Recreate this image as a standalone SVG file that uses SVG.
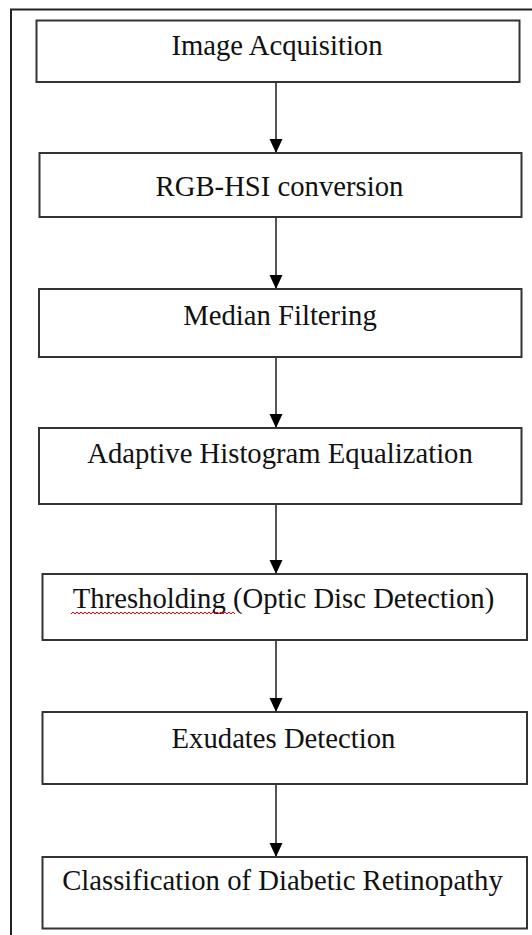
<svg xmlns="http://www.w3.org/2000/svg" width="532" height="935" viewBox="0 0 532 935">
<style>
.box{fill:#fff;stroke:#333;stroke-width:2}
.lbl{font-family:"Liberation Serif","Times New Roman",serif;font-size:28.7px;fill:#111;text-anchor:middle}
.edge{stroke:#555;stroke-width:2;fill:none;marker-end:url(#ah)}
</style>
<defs>
<marker id="ah" markerUnits="userSpaceOnUse" markerWidth="14" markerHeight="14" viewBox="0 0 14 14" refX="14" refY="7" orient="auto">
<path d="M0,0.5 L14,7 L0,13.5 Z" fill="#000"/>
</marker>
</defs>
<rect width="532" height="935" fill="#fff"/>
<path d="M11,935 V9.5 H532" fill="none" stroke="#222" stroke-width="2"/>
<g id="connectors">
<line class="edge" x1="276" y1="82" x2="276" y2="153"/>
<line class="edge" x1="276" y1="217" x2="276" y2="289"/>
<line class="edge" x1="276" y1="357" x2="276" y2="428"/>
<line class="edge" x1="276" y1="504" x2="276" y2="574"/>
<line class="edge" x1="276" y1="640" x2="276" y2="712"/>
<line class="edge" x1="276" y1="784" x2="276" y2="857"/>
</g>
<g id="n1"><rect class="box" x="36.5" y="20.5" width="483" height="61.5"/><text class="lbl" x="277" y="55">Image Acquisition</text></g>
<g id="n2"><rect class="box" x="39.5" y="153" width="482" height="64"/><text class="lbl" x="279.5" y="196">RGB-HSI conversion</text></g>
<g id="n3"><rect class="box" x="39" y="289" width="482.5" height="68"/><text class="lbl" x="280" y="325">Median Filtering</text></g>
<g id="n4"><rect class="box" x="39" y="428" width="482.5" height="76"/><text class="lbl" x="280" y="463">Adaptive Histogram Equalization</text></g>
<g id="n5"><rect class="box" x="42.5" y="574" width="484.5" height="66"/><text class="lbl" x="283.5" y="608">Thresholding (Optic Disc Detection)</text>
<path d="M71,614 l2,-2 l2,2 l2,-2 l2,2 l2,-2 l2,2 l2,-2 l2,2 l2,-2 l2,2 l2,-2 l2,2 l2,-2 l2,2 l2,-2 l2,2 l2,-2 l2,2 l2,-2 l2,2 l2,-2 l2,2 l2,-2 l2,2 l2,-2 l2,2 l2,-2 l2,2 l2,-2 l2,2 l2,-2 l2,2 l2,-2 l2,2 l2,-2 l2,2 l2,-2 l2,2 l2,-2 l2,2 l2,-2 l2,2 l2,-2 l2,2 l2,-2 l2,2 l2,-2 l2,2 l2,-2 l2,2 l2,-2 l2,2 l2,-2 l2,2 l2,-2 l2,2 l2,-2 l2,2 l2,-2 l2,2 l2,-2 l2,2 l2,-2 l2,2 l2,-2 l2,2 l2,-2 l2,2 l2,-2 l2,2 l2,-2 l2,2 l2,-2 l2,2 l2,-2 l2,2 l2,-2 l2,2 l2,-2 l2,2 l2,-2 l2,2" fill="none" stroke="#e00" stroke-width="1"/></g>
<g id="n6"><rect class="box" x="42.5" y="712" width="484.5" height="72"/><text class="lbl" x="283.5" y="748">Exudates Detection</text></g>
<g id="n7"><rect class="box" x="42.5" y="857" width="484.5" height="71.5"/><text class="lbl" x="282.5" y="890">Classification of Diabetic Retinopathy</text></g>
</svg>
